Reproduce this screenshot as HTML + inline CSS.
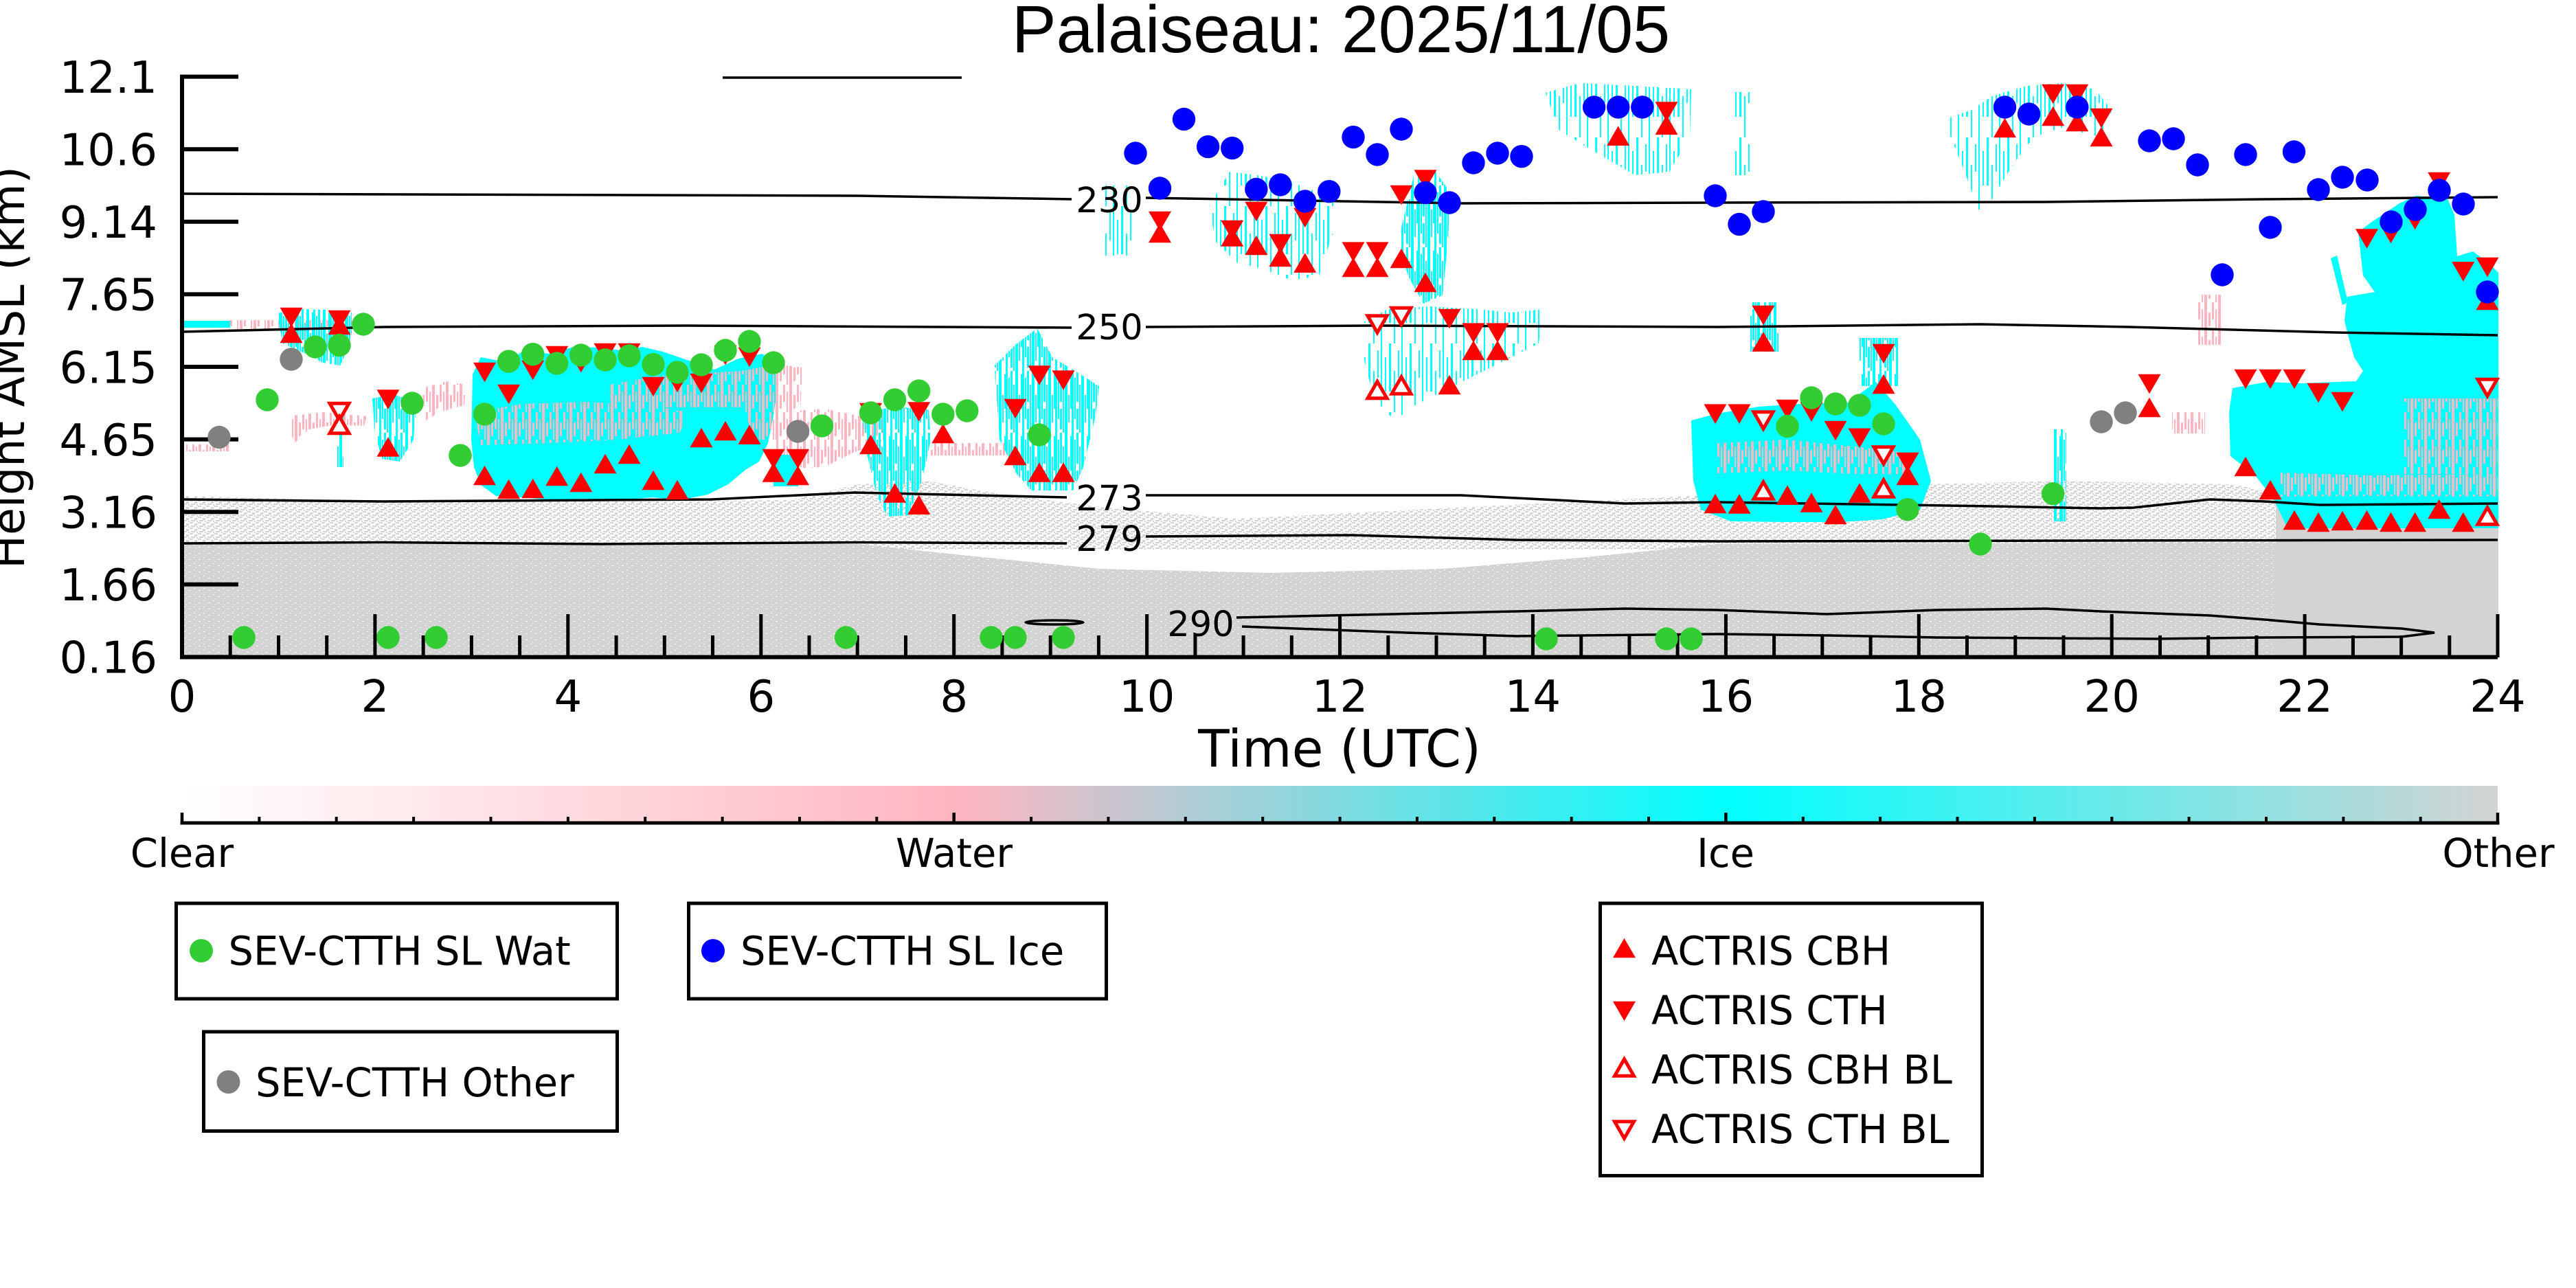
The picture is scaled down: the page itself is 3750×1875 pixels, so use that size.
<!DOCTYPE html>
<html><head><meta charset="utf-8"><style>
html,body{margin:0;padding:0;background:#fff;}
svg{display:block;}
text{font-family:"DejaVu Sans","Liberation Sans",sans-serif;fill:#000;}
</style></head><body>
<svg width="3750" height="1875" viewBox="0 0 3750 1875" xmlns="http://www.w3.org/2000/svg" xmlns:xlink="http://www.w3.org/1999/xlink">
<defs>
<pattern id="gd" width="14" height="9" patternUnits="userSpaceOnUse"><rect width="14" height="9" fill="#d3d3d3"/><rect x="2" y="1" width="2" height="1" fill="#fff"/><rect x="9" y="4" width="3" height="1" fill="#fff"/><rect x="5" y="7" width="1" height="1" fill="#fff"/></pattern>
<pattern id="gs" width="12" height="8" patternUnits="userSpaceOnUse"><rect x="0" y="0" width="5" height="2" fill="#d3d3d3"/><rect x="7" y="2" width="4" height="3" fill="#d3d3d3"/><rect x="2" y="5" width="6" height="2" fill="#d3d3d3"/><rect x="10" y="6" width="2" height="2" fill="#d3d3d3"/></pattern>
<pattern id="cs" width="24" height="90" patternUnits="userSpaceOnUse"><g fill="#0ff"><rect x="0" y="0" width="3" height="90"/><rect x="4" y="10" width="2" height="60"/><rect x="7" y="0" width="3" height="45"/><rect x="7" y="55" width="3" height="30"/><rect x="11" y="20" width="2" height="70"/><rect x="14" y="0" width="4" height="90"/><rect x="19" y="35" width="2" height="40"/><rect x="22" y="5" width="2" height="50"/></g></pattern>
<pattern id="cs2" width="30" height="100" patternUnits="userSpaceOnUse"><g fill="#0ff"><rect x="0" y="0" width="2" height="100"/><rect x="6" y="20" width="2" height="50"/><rect x="12" y="0" width="3" height="70"/><rect x="19" y="40" width="2" height="60"/><rect x="25" y="10" width="2" height="40"/></g></pattern>
<pattern id="ps" width="20" height="40" patternUnits="userSpaceOnUse"><g fill="#ffb6c1"><rect x="0" y="0" width="3" height="25"/><rect x="5" y="10" width="2" height="30"/><rect x="9" y="0" width="4" height="40"/><rect x="15" y="15" width="3" height="20"/></g></pattern>
<linearGradient id="cb" x1="0" x2="1" y1="0" y2="0"><stop offset="0" stop-color="#ffffff"/><stop offset="0.3333" stop-color="#ffb6c1"/><stop offset="0.6667" stop-color="#00ffff"/><stop offset="1" stop-color="#d3d3d3"/></linearGradient>
<clipPath id="pc"><rect x="265" y="100" width="3372" height="857"/></clipPath>
<path id="U" d="M-16.5 14.3H16.5L0-14.3Z"/>
<path id="D" d="M-16.5-14.3H16.5L0 14.3Z"/>
<path id="HU" d="M-14 12.2H14L0-12.2Z"/>
<path id="HD" d="M-14-12.2H14L0 12.2Z"/>
</defs>
<rect width="3750" height="1875" fill="#fff"/>

<g clip-path="url(#pc)">
<path d="M265,722 L500,728 L900,730 L1150,728 L1250,705 L1350,700 L1450,718 L1600,738 L1800,755 L2000,745 L2200,735 L2400,725 L2600,715 L2800,705 L3000,700 L3250,705 L3320,720 L3320,800 L265,800 Z" fill="url(#gs)"/>
<path d="M265,792 L1250,792 L1400,808 L1600,828 L1850,834 L2100,828 L2300,812 L2500,792 L3636,790 L3636,957 L265,957 Z" fill="url(#gd)"/>
<rect x="3313" y="728" width="324" height="229" fill="#d3d3d3"/>

<path d="M268,467 H335 V477 H268 Z" fill="#0ff"/>
<path d="M335,466 H545 V479 H335 Z" fill="url(#ps)"/>
<path d="M271,647 H335 V657 H271 Z" fill="url(#ps)"/>
<path d="M425,605 L470,600 L534,606 L530,620 L490,618 L450,625 L430,644 L422,630 Z" fill="url(#ps)"/>
<path d="M614,565 L650,555 L678,560 L676,590 L640,600 L620,612 Z" fill="url(#ps)"/>
<path d="M403,456 L440,450 L475,451 L512,455 L512,485 L505,512 L495,532 L470,528 L445,515 L412,500 Z" fill="url(#cs)"/>
<path d="M490,590 h10 v90 h-10 Z" fill="url(#cs)"/>
<path d="M542,580 L572,574 L606,585 L602,640 L582,672 L556,668 L546,632 Z" fill="url(#cs)"/>
<path d="M688,545 L700,520 L740,528 L762,510 L800,515 L835,505 L870,506 L905,510 L935,505 L965,512 L1000,524 L1040,538 L1075,522 L1110,515 L1128,530 L1132,565 L1126,605 L1118,645 L1105,672 L1085,684 L1060,705 L1030,720 L990,728 L950,724 L905,728 L850,726 L800,728 L760,724 L722,722 L700,706 L690,680 L686,640 Z" fill="#0ff"/>
<path d="M690,600 L760,588 L850,585 L950,590 L1000,600 L990,630 L900,640 L800,645 L700,648 Z" fill="url(#ps)"/>
<path d="M887,560 L960,547 L1080,540 L1130,530 L1168,535 L1165,600 L1130,640 L1100,640 L1080,593 L960,593 L890,590 Z" fill="url(#ps)"/>
<path d="M1130,600 L1200,595 L1250,605 L1290,612 L1290,640 L1240,660 L1200,680 L1150,682 L1130,660 Z" fill="url(#ps)"/>
<path d="M1126,662 H1162 V708 H1126 Z" fill="#0ff"/>
<path d="M1255,602 L1300,592 L1352,596 L1355,640 L1342,700 L1322,750 L1292,752 L1276,720 L1262,660 Z" fill="url(#cs)"/>
<path d="M1354,645 H1481 V663 H1354 Z" fill="url(#ps)"/>
<path d="M1448,532 L1478,502 L1510,478 L1532,520 L1565,540 L1600,562 L1595,605 L1577,680 L1562,714 L1502,714 L1480,690 L1455,640 Z" fill="url(#cs)"/>
<path d="M1605,270 H1650 V372 H1605 Z" fill="url(#cs2)"/>
<path d="M1760,300 L1790,250 L1830,255 L1880,265 L1944,290 L1940,340 L1920,402 L1880,408 L1840,392 L1800,382 L1770,352 Z" fill="url(#cs2)"/>
<path d="M2035,352 L2058,256 L2090,250 L2111,280 L2108,350 L2100,430 L2072,442 L2050,402 Z" fill="url(#cs)"/>
<path d="M1983,470 L2020,450 L2080,446 L2150,450 L2200,455 L2246,450 L2240,500 L2180,530 L2120,560 L2060,590 L2030,612 L2000,580 L1985,520 Z" fill="url(#cs2)"/>
<path d="M2250,135 L2300,121 L2380,125 L2462,130 L2460,200 L2430,250 L2380,255 L2320,220 L2270,190 Z" fill="url(#cs2)"/>
<path d="M2524,134 H2548 V255 H2524 Z" fill="url(#cs2)"/>
<path d="M2462,612 L2500,602 L2560,592 L2620,588 L2690,586 L2731,556 L2760,590 L2795,640 L2811,700 L2795,742 L2740,756 L2680,760 L2600,760 L2520,759 L2476,742 L2465,700 Z" fill="#0ff"/>
<path d="M2500,645 L2600,640 L2700,650 L2780,660 L2780,690 L2700,690 L2600,685 L2500,689 Z" fill="url(#ps)"/>
<path d="M2548,440 H2590 V512 H2548 Z" fill="url(#cs)"/>
<path d="M2707,492 H2764 V562 H2707 Z" fill="url(#cs)"/>
<path d="M2827,175 L2870,160 L2900,140 L2950,125 L3000,121 L3050,130 L3074,160 L3060,200 L3000,186 L2960,200 L2930,240 L2900,290 L2880,306 L2860,250 L2840,200 Z" fill="url(#cs2)"/>
<path d="M2990,625 h18 v134 h-18 Z" fill="url(#cs)"/>
<path d="M3162,600 H3210 V631 H3162 Z" fill="url(#ps)"/>
<path d="M3200,429 H3233 V502 H3200 Z" fill="url(#ps)"/>
<path d="M3250,565 L3300,556 L3350,558 L3400,556 L3430,555 L3440,540 L3427,520 L3420,495 L3413,467 L3417,432 L3457,425 L3440,401 L3433,338 L3450,325 L3493,296 L3517,285 L3563,289 L3573,313 L3577,373 L3600,366 L3623,383 L3637,397 L3637,769 L3330,769 L3310,727 L3283,692 L3247,664 L3245,600 Z" fill="#0ff"/>
<path d="M3393,376 L3402,372 L3418,440 L3410,444 Z" fill="#0ff"/>
<path d="M3320,688 L3450,692 L3636,690 L3636,723 L3450,722 L3320,723 Z" fill="url(#ps)"/>
<path d="M3500,580 H3636 V690 H3500 Z" fill="url(#ps)"/>

<g fill="none" stroke="#000" stroke-width="3.5">
<path d="M1052,113 L1400,113"/>
<path d="M265,282 L1250,285 L1560,290 M1668,288 L2127,296 L2500,295 L2978,294 L3297,290 L3636,287"/>
<path d="M265,483 L560,476 L1000,474 L1560,477 M1668,476 L2000,474 L2500,476 L2883,472 L3100,476 L3400,484 L3636,488"/>
<path d="M265,727 L558,730 L1036,727 L1244,717 L1553,724 M1668,721 L2127,721 L2366,733 L2500,731 L2899,737 L3058,740 L3106,739 L3217,727 L3297,730 L3377,735 L3636,733"/>
<path d="M265,791 L558,789.5 L877,792 L1250,789.5 L1553,791 M1668,781 L1967,779 L2207,786 L2500,788 L3636,786"/>
<path d="M1800,899 L2207,890 L2366,886 L2500,888 L2659,894 L2819,888 L2978,886 L3058,890 L3217,896 L3297,902 L3377,909 L3496,915 L3544,921 L3496,927 L3297,928 L3138,930 L2819,928 L2659,925 L2500,923 L2207,926 L2047,921 L1808,912"/>
<ellipse cx="1535" cy="906" rx="42" ry="3"/>
</g>
</g>

<g font-size="51" text-anchor="middle">
<text x="1615" y="309">230</text>
<text x="1615" y="494">250</text>
<text x="1615" y="743">273</text>
<text x="1615" y="802">279</text>
<text x="1748" y="926">290</text>
</g>

<g stroke="#000" fill="none">
<path d="M265,108.6 V959.6 M262,956.6 H3636" stroke-width="6"/>
<path d="M265,111.6H347 M265,217.2H347 M265,322.8H347 M265,428.4H347 M265,534H347 M265,639.6H347 M265,745.2H347 M265,850.8H347 M265,956.4H347" stroke-width="6"/>
<path d="M545.9,957V894 M826.8,957V894 M1107.8,957V894 M1388.7,957V894 M1669.6,957V894 M1950.5,957V894 M2231.4,957V894 M2512.4,957V894 M2793.3,957V894 M3074.2,957V894 M3355.1,957V894 M3636,957V894" stroke-width="5"/>
<path d="M335.2,957V925 M405.5,957V925 M475.7,957V925 M616.2,957V925 M686.4,957V925 M756.6,957V925 M897.1,957V925 M967.3,957V925 M1037.5,957V925 M1178,957V925 M1248.2,957V925 M1318.5,957V925 M1458.9,957V925 M1529.2,957V925 M1599.4,957V925 M1739.9,957V925 M1810.1,957V925 M1880.3,957V925 M2020.8,957V925 M2091,957V925 M2161.2,957V925 M2301.7,957V925 M2371.9,957V925 M2442.1,957V925 M2582.6,957V925 M2652.8,957V925 M2723.1,957V925 M2863.5,957V925 M2933.8,957V925 M3004,957V925 M3144.5,957V925 M3214.7,957V925 M3284.9,957V925 M3425.4,957V925 M3495.6,957V925 M3565.8,957V925" stroke-width="5"/>
</g>

<g fill="#f00">
<use xlink:href="#D" x="424" y="462"/><use xlink:href="#D" x="494" y="466"/><use xlink:href="#D" x="565" y="581.6"/><use xlink:href="#D" x="705.5" y="542"/><use xlink:href="#D" x="740.6" y="574"/><use xlink:href="#D" x="775.7" y="539"/><use xlink:href="#D" x="810.7" y="518"/><use xlink:href="#D" x="845.8" y="528"/><use xlink:href="#D" x="881" y="514"/><use xlink:href="#D" x="916" y="514"/><use xlink:href="#D" x="951" y="563"/><use xlink:href="#D" x="986" y="557"/><use xlink:href="#D" x="1021" y="558"/><use xlink:href="#D" x="1056" y="517"/><use xlink:href="#D" x="1091" y="520"/><use xlink:href="#D" x="1126" y="668"/><use xlink:href="#D" x="1161.5" y="668"/><use xlink:href="#D" x="1267.5" y="601"/><use xlink:href="#D" x="1337.7" y="599.5"/><use xlink:href="#D" x="1478" y="595"/><use xlink:href="#D" x="1513" y="546.5"/><use xlink:href="#D" x="1548" y="553.6"/><use xlink:href="#D" x="1688.5" y="322"/><use xlink:href="#D" x="1793.7" y="335"/><use xlink:href="#D" x="1828.8" y="308"/><use xlink:href="#D" x="1863.8" y="355"/><use xlink:href="#D" x="1899.7" y="317"/><use xlink:href="#D" x="1970" y="366.7"/><use xlink:href="#D" x="2005" y="366.7"/><use xlink:href="#D" x="2040" y="284"/><use xlink:href="#D" x="2075" y="261.5"/><use xlink:href="#D" x="2110" y="464"/><use xlink:href="#D" x="2145" y="484.7"/><use xlink:href="#D" x="2180" y="484.7"/><use xlink:href="#D" x="2426" y="162.6"/><use xlink:href="#D" x="2497" y="602.7"/><use xlink:href="#D" x="2532" y="602.7"/><use xlink:href="#D" x="2567" y="459"/><use xlink:href="#D" x="2602" y="596"/><use xlink:href="#D" x="2637" y="599.5"/><use xlink:href="#D" x="2672" y="627"/><use xlink:href="#D" x="2707" y="637.8"/><use xlink:href="#D" x="2742" y="515"/><use xlink:href="#D" x="2777" y="673"/><use xlink:href="#D" x="2988.7" y="137"/><use xlink:href="#D" x="3023.8" y="137"/><use xlink:href="#D" x="3059" y="172"/><use xlink:href="#D" x="3129" y="559"/><use xlink:href="#D" x="3269" y="552"/><use xlink:href="#D" x="3305" y="552"/><use xlink:href="#D" x="3340" y="552"/><use xlink:href="#D" x="3375" y="572"/><use xlink:href="#D" x="3410" y="585"/><use xlink:href="#D" x="3445.5" y="347.6"/><use xlink:href="#D" x="3480.5" y="340"/><use xlink:href="#D" x="3515.6" y="320"/><use xlink:href="#D" x="3550.7" y="265"/><use xlink:href="#D" x="3585.8" y="395.4"/><use xlink:href="#D" x="3621" y="389"/>
<use xlink:href="#U" x="424" y="485"/><use xlink:href="#U" x="494" y="473"/><use xlink:href="#U" x="565" y="650.5"/><use xlink:href="#U" x="705.5" y="692"/><use xlink:href="#U" x="740.6" y="712"/><use xlink:href="#U" x="775.7" y="711"/><use xlink:href="#U" x="810.7" y="693"/><use xlink:href="#U" x="845.8" y="702"/><use xlink:href="#U" x="881" y="675"/><use xlink:href="#U" x="916" y="661"/><use xlink:href="#U" x="951" y="699"/><use xlink:href="#U" x="986" y="713"/><use xlink:href="#U" x="1021" y="637"/><use xlink:href="#U" x="1056" y="627"/><use xlink:href="#U" x="1091" y="632.6"/><use xlink:href="#U" x="1126" y="687.5"/><use xlink:href="#U" x="1161.5" y="692"/><use xlink:href="#U" x="1267.5" y="647"/><use xlink:href="#U" x="1302.6" y="717.5"/><use xlink:href="#U" x="1337.7" y="734.7"/><use xlink:href="#U" x="1372.8" y="631"/><use xlink:href="#U" x="1478" y="663"/><use xlink:href="#U" x="1513" y="687.5"/><use xlink:href="#U" x="1548" y="687.5"/><use xlink:href="#U" x="1688.5" y="339"/><use xlink:href="#U" x="1793.7" y="344.4"/><use xlink:href="#U" x="1828.8" y="357"/><use xlink:href="#U" x="1863.8" y="374"/><use xlink:href="#U" x="1899.7" y="382.6"/><use xlink:href="#U" x="1970" y="389"/><use xlink:href="#U" x="2005" y="389"/><use xlink:href="#U" x="2040" y="376"/><use xlink:href="#U" x="2075" y="411"/><use xlink:href="#U" x="2110" y="560"/><use xlink:href="#U" x="2145" y="510"/><use xlink:href="#U" x="2180" y="510"/><use xlink:href="#U" x="2355.7" y="197.7"/><use xlink:href="#U" x="2426" y="181.8"/><use xlink:href="#U" x="2497" y="733"/><use xlink:href="#U" x="2532" y="733.4"/><use xlink:href="#U" x="2567" y="497.4"/><use xlink:href="#U" x="2602" y="720.7"/><use xlink:href="#U" x="2637" y="731.5"/><use xlink:href="#U" x="2672" y="749"/><use xlink:href="#U" x="2707" y="717.5"/><use xlink:href="#U" x="2742" y="559"/><use xlink:href="#U" x="2777" y="692"/><use xlink:href="#U" x="2918.5" y="186"/><use xlink:href="#U" x="2988.7" y="169"/><use xlink:href="#U" x="3023.8" y="177"/><use xlink:href="#U" x="3059" y="199"/><use xlink:href="#U" x="3129" y="593"/><use xlink:href="#U" x="3269" y="679"/><use xlink:href="#U" x="3305" y="713"/><use xlink:href="#U" x="3340" y="757"/><use xlink:href="#U" x="3375" y="760"/><use xlink:href="#U" x="3410" y="758"/><use xlink:href="#U" x="3445.5" y="757"/><use xlink:href="#U" x="3480.5" y="760"/><use xlink:href="#U" x="3515.6" y="760"/><use xlink:href="#U" x="3550.7" y="741"/><use xlink:href="#U" x="3585.8" y="760"/><use xlink:href="#U" x="3621" y="437"/>
</g>
<g fill="#fff" stroke="#f00" stroke-width="5">
<use xlink:href="#HD" x="494" y="599.5"/><use xlink:href="#HD" x="2005" y="472"/><use xlink:href="#HD" x="2040" y="460.5"/><use xlink:href="#HD" x="2567" y="612"/><use xlink:href="#HD" x="2742" y="663"/><use xlink:href="#HD" x="3621" y="564.4"/>
<use xlink:href="#HU" x="494" y="618.6"/><use xlink:href="#HU" x="2005" y="567.6"/><use xlink:href="#HU" x="2040" y="561"/><use xlink:href="#HU" x="2567" y="714"/><use xlink:href="#HU" x="2742" y="711"/><use xlink:href="#HU" x="3621" y="751"/>
</g>

<g fill="#32cd32">
<circle cx="355" cy="928" r="16.7"/><circle cx="389" cy="582" r="16.7"/><circle cx="459" cy="505" r="16.7"/><circle cx="494" cy="502.6" r="16.7"/><circle cx="529" cy="472" r="16.7"/><circle cx="565" cy="928" r="16.7"/><circle cx="600" cy="587" r="16.7"/><circle cx="635" cy="928" r="16.7"/><circle cx="670" cy="663" r="16.7"/><circle cx="705.5" cy="603" r="16.7"/><circle cx="740.6" cy="526" r="16.7"/><circle cx="775.7" cy="515.7" r="16.7"/><circle cx="810.7" cy="529" r="16.7"/><circle cx="845.8" cy="517" r="16.7"/><circle cx="881" cy="524" r="16.7"/><circle cx="916" cy="518" r="16.7"/><circle cx="951" cy="530.6" r="16.7"/><circle cx="986" cy="542" r="16.7"/><circle cx="1021" cy="531" r="16.7"/><circle cx="1056" cy="510" r="16.7"/><circle cx="1091" cy="497" r="16.7"/><circle cx="1126" cy="528" r="16.7"/><circle cx="1196.6" cy="620" r="16.7"/><circle cx="1231.6" cy="928" r="16.7"/><circle cx="1267.5" cy="601" r="16.7"/><circle cx="1302.6" cy="582" r="16.7"/><circle cx="1337.7" cy="569" r="16.7"/><circle cx="1372.8" cy="603" r="16.7"/><circle cx="1407.8" cy="598" r="16.7"/><circle cx="1443" cy="928" r="16.7"/><circle cx="1478" cy="928" r="16.7"/><circle cx="1513" cy="633" r="16.7"/><circle cx="1548" cy="928" r="16.7"/><circle cx="2251" cy="930" r="16.7"/><circle cx="2426" cy="930" r="16.7"/><circle cx="2462" cy="930" r="16.7"/><circle cx="2602" cy="620.5" r="16.7"/><circle cx="2637" cy="579" r="16.7"/><circle cx="2672" cy="588" r="16.7"/><circle cx="2707" cy="590" r="16.7"/><circle cx="2742" cy="617" r="16.7"/><circle cx="2777" cy="741.7" r="16.7"/><circle cx="2883" cy="792" r="16.7"/><circle cx="2988.7" cy="718.7" r="16.7"/>
</g>
<g fill="#808080">
<circle cx="319" cy="636.5" r="16.7"/><circle cx="424" cy="523" r="16.7"/><circle cx="1161.5" cy="628" r="16.7"/><circle cx="3059" cy="614" r="16.7"/><circle cx="3094" cy="601" r="16.7"/>
</g>
<g fill="#0000ff">
<circle cx="1653" cy="223" r="16.7"/><circle cx="1688.5" cy="274" r="16.7"/><circle cx="1723.5" cy="173.5" r="16.7"/><circle cx="1758.6" cy="213.6" r="16.7"/><circle cx="1793.7" cy="215.6" r="16.7"/><circle cx="1828.8" cy="275.5" r="16.7"/><circle cx="1863.8" cy="269" r="16.7"/><circle cx="1899.7" cy="293" r="16.7"/><circle cx="1934.8" cy="278.7" r="16.7"/><circle cx="1970" cy="199.6" r="16.7"/><circle cx="2005" cy="225" r="16.7"/><circle cx="2040" cy="188" r="16.7"/><circle cx="2075" cy="280.6" r="16.7"/><circle cx="2110" cy="295" r="16.7"/><circle cx="2145" cy="237" r="16.7"/><circle cx="2180" cy="223" r="16.7"/><circle cx="2215" cy="227.7" r="16.7"/><circle cx="2320.6" cy="156" r="16.7"/><circle cx="2355.7" cy="156" r="16.7"/><circle cx="2390.8" cy="156" r="16.7"/><circle cx="2497" cy="285" r="16.7"/><circle cx="2532" cy="326.5" r="16.7"/><circle cx="2567" cy="308" r="16.7"/><circle cx="2918.5" cy="156" r="16.7"/><circle cx="2953.6" cy="166" r="16.7"/><circle cx="3023.8" cy="156" r="16.7"/><circle cx="3129" cy="205" r="16.7"/><circle cx="3164" cy="202" r="16.7"/><circle cx="3199" cy="240" r="16.7"/><circle cx="3235" cy="400" r="16.7"/><circle cx="3269" cy="225" r="16.7"/><circle cx="3305" cy="331" r="16.7"/><circle cx="3339.5" cy="221" r="16.7"/><circle cx="3375" cy="276" r="16.7"/><circle cx="3410" cy="258" r="16.7"/><circle cx="3446" cy="262" r="16.7"/><circle cx="3481" cy="323" r="16.7"/><circle cx="3516" cy="305" r="16.7"/><circle cx="3551" cy="277" r="16.7"/><circle cx="3586" cy="297" r="16.7"/><circle cx="3621" cy="425" r="16.7"/>
</g>

<text x="1952" y="76" font-size="97" text-anchor="middle" style="font-family:'Liberation Sans',Arial,sans-serif">Palaiseau: 2025/11/05</text>
<g font-size="64" text-anchor="end">
<text x="229" y="134.9">12.1</text>
<text x="229" y="240.5">10.6</text>
<text x="229" y="346.1">9.14</text>
<text x="229" y="451.7">7.65</text>
<text x="229" y="557.3">6.15</text>
<text x="229" y="662.9">4.65</text>
<text x="229" y="768.5">3.16</text>
<text x="229" y="874.1">1.66</text>
<text x="229" y="979.7">0.16</text>
</g>
<g font-size="64" text-anchor="middle">
<text x="265" y="1036">0</text>
<text x="545.9" y="1036">2</text>
<text x="826.8" y="1036">4</text>
<text x="1107.8" y="1036">6</text>
<text x="1388.7" y="1036">8</text>
<text x="1669.6" y="1036">10</text>
<text x="1950.5" y="1036">12</text>
<text x="2231.4" y="1036">14</text>
<text x="2512.4" y="1036">16</text>
<text x="2793.3" y="1036">18</text>
<text x="3074.2" y="1036">20</text>
<text x="3355.1" y="1036">22</text>
<text x="3636" y="1036">24</text>
</g>
<text x="1950" y="1116" font-size="74.5" text-anchor="middle">Time (UTC)</text>
<text transform="translate(35 535) rotate(-90)" font-size="65" text-anchor="middle">Height AMSL (km)</text>

<rect x="265" y="1144" width="3371" height="53" fill="url(#cb)"/>
<g stroke="#000" fill="none">
<path d="M262.5,1198 H3638.5" stroke-width="5"/>
<path d="M265,1198V1183 M1388.7,1198V1183 M2512.4,1198V1183 M3636,1198V1183" stroke-width="4.5"/>
<path d="M377.4,1198V1189 M489.7,1198V1189 M602.1,1198V1189 M714.5,1198V1189 M826.9,1198V1189 M939.2,1198V1189 M1051.6,1198V1189 M1164,1198V1189 M1276.3,1198V1189 M1501.1,1198V1189 M1613.4,1198V1189 M1725.8,1198V1189 M1838.2,1198V1189 M1950.6,1198V1189 M2062.9,1198V1189 M2175.3,1198V1189 M2287.7,1198V1189 M2400,1198V1189 M2624.8,1198V1189 M2737.1,1198V1189 M2849.5,1198V1189 M2961.9,1198V1189 M3074.3,1198V1189 M3186.6,1198V1189 M3299,1198V1189 M3411.4,1198V1189 M3523.7,1198V1189" stroke-width="4"/>
</g>
<g font-size="57.5" text-anchor="middle">
<text x="265" y="1262">Clear</text>
<text x="1389" y="1262">Water</text>
<text x="2512" y="1262">Ice</text>
<text x="3637" y="1262">Other</text>
</g>

<g fill="none" stroke="#000" stroke-width="5">
<rect x="256.5" y="1315" width="642" height="139"/>
<rect x="296.5" y="1502" width="602" height="144.5"/>
<rect x="1002.5" y="1315" width="608" height="139"/>
<rect x="2329.5" y="1315" width="556" height="396.5"/>
</g>
<circle cx="293" cy="1384" r="17" fill="#32cd32"/>
<circle cx="332.5" cy="1575" r="17" fill="#808080"/>
<circle cx="1038" cy="1384" r="17" fill="#0000ff"/>
<use xlink:href="#U" x="2364.5" y="1380" fill="#f00"/>
<use xlink:href="#D" x="2364.5" y="1472" fill="#f00"/>
<use xlink:href="#HU" x="2364.5" y="1554" fill="#fff" stroke="#f00" stroke-width="5"/>
<use xlink:href="#HD" x="2364.5" y="1645" fill="#fff" stroke="#f00" stroke-width="5"/>
<g font-size="57.5">
<text x="332.5" y="1404.6">SEV-CTTH SL Wat</text>
<text x="372" y="1596">SEV-CTTH Other</text>
<text x="1078" y="1404.6">SEV-CTTH SL Ice</text>
<text x="2404" y="1404.6">ACTRIS CBH</text>
<text x="2404" y="1491">ACTRIS CTH</text>
<text x="2404" y="1577.6">ACTRIS CBH BL</text>
<text x="2404" y="1664">ACTRIS CTH BL</text>
</g>
</svg>
</body></html>
